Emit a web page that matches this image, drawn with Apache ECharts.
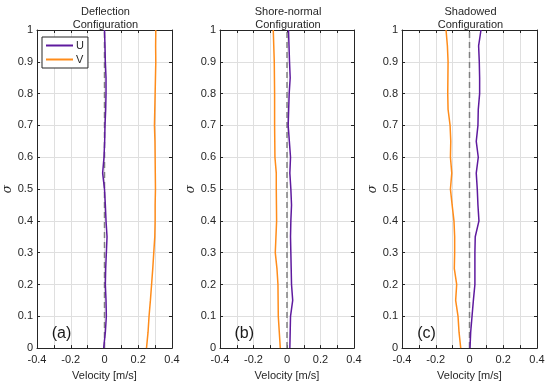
<!DOCTYPE html>
<html>
<head>
<meta charset="utf-8">
<script src="https://cdn.jsdelivr.net/npm/echarts@6/dist/echarts.min.js"></script>
<style>html,body{margin:0;padding:0;background:#fff;}#c{width:550px;height:386px;}</style>
</head>
<body>
<div id="c"></div>
<script>
const sigma = [1, 0.95, 0.9, 0.85, 0.8, 0.75, 0.7, 0.65, 0.6, 0.55, 0.5, 0.45, 0.4, 0.35, 0.3, 0.25, 0.2, 0.15, 0.1, 0.05, 0];
const titles = ['Deflection\nConfiguration', 'Shore-normal\nConfiguration', 'Shadowed\nConfiguration'];
const panelLabels = ['(a)', '(b)', '(c)'];
const uDeflection = [0, 0.003, 0.005, 0.009, 0.009, 0.007, 0.003, 0.001, -0.003, -0.011, 0, 0.005, 0.009, 0.015, 0.011, 0.007, 0.005, 0.009, 0.011, 0.005, -0.005];
const vDeflection = [0.304, 0.303, 0.304, 0.302, 0.300, 0.298, 0.296, 0.299, 0.300, 0.301, 0.302, 0.300, 0.300, 0.298, 0.292, 0.286, 0.279, 0.272, 0.264, 0.258, 0.249];
const uShoreNormal = [0.009, 0.012, 0.015, 0.019, 0.013, 0.010, 0.007, 0.014, 0.021, 0.017, 0.023, 0.027, 0.023, 0.021, 0.023, 0.025, 0.027, 0.034, 0.021, 0.019, 0.017];
const vShoreNormal = [-0.082, -0.079, -0.076, -0.075, -0.074, -0.074, -0.074, -0.073, -0.072, -0.064, -0.064, -0.063, -0.062, -0.066, -0.070, -0.060, -0.054, -0.053, -0.052, -0.046, -0.040];
const uShadowed = [0.068, 0.054, 0.058, 0.060, 0.060, 0.052, 0.050, 0.040, 0.052, 0.040, 0.046, 0.050, 0.056, 0.034, 0.032, 0.032, 0.032, 0.023, 0.015, 0.007, 0.003];
const vShadowed = [-0.139, -0.131, -0.127, -0.128, -0.129, -0.127, -0.115, -0.111, -0.113, -0.105, -0.113, -0.103, -0.092, -0.088, -0.088, -0.090, -0.076, -0.082, -0.068, -0.062, -0.052];
const zeroLine = [0, 0];
const zeroLineSigma = [0, 1];
const xTicks = [-0.4, -0.2, 0, 0.2, 0.4];

const uData = [uDeflection, uShoreNormal, uShadowed];
const vData = [vDeflection, vShoreNormal, vShadowed];

const FONT = "'Liberation Sans', Arial, Helvetica, sans-serif";
const TXT = '#262626';
const UCOL = '#5E1A9E';
const VCOL = '#FF8C1A';
const panelsLeft = [37, 220, 402];
const panelW = [135, 134, 135];
const TOP = 30, H = 321;

const grids = [], xAxes = [], yAxes = [], series = [], titleArr = [];
for (let i = 0; i < 3; i++) {
  grids.push({left: panelsLeft[i], top: TOP, width: panelW[i], height: H, containLabel: false});
  titleArr.push({
    text: titles[i], left: panelsLeft[i] + panelW[i] / 2 - 4, top: 0, textAlign: 'center',
    textStyle: {fontFamily: FONT, fontSize: 11, fontWeight: 'normal', color: TXT, lineHeight: 13}
  });
  const common = {type: 'value', gridIndex: i, min: -0.4, max: 0.4, interval: 0.1};
  xAxes.push(Object.assign({}, common, {
    position: 'bottom',
    name: 'Velocity [m/s]', nameLocation: 'middle', nameGap: 19,
    nameTextStyle: {fontFamily: FONT, fontSize: 11, color: TXT},
    axisLine: {show: true, onZero: false, lineStyle: {color: TXT, width: 1}},
    axisTick: {show: true, inside: true, length: 3, lineStyle: {color: TXT}},
    axisLabel: {fontFamily: FONT, fontSize: 11, color: TXT, margin: 6,
      formatter: v => { const k = Math.round(v * 10); return (k % 2 === 0) ? xTicks.find(t => Math.round(t * 10) === k).toString() : ''; }},
    splitLine: {show: true, lineStyle: {color: '#DFDFDF', width: 1}}
  }));
  xAxes.push(Object.assign({}, common, {
    position: 'top',
    axisLine: {show: true, onZero: false, lineStyle: {color: TXT, width: 1}},
    axisTick: {show: true, inside: true, length: 3, lineStyle: {color: TXT}},
    axisLabel: {show: false}, splitLine: {show: false}
  }));
  const ycommon = {type: 'value', gridIndex: i, min: 0, max: 1, interval: 0.1};
  yAxes.push(Object.assign({}, ycommon, {
    position: 'left',
    name: 'σ', nameLocation: 'middle', nameGap: 21,
    nameTextStyle: {fontFamily: "'DejaVu Serif', serif", fontSize: 12, fontStyle: 'italic', color: TXT},
    axisLine: {show: true, onZero: false, lineStyle: {color: TXT, width: 1}},
    axisTick: {show: true, inside: true, length: 3, lineStyle: {color: TXT}},
    axisLabel: {fontFamily: FONT, fontSize: 11, color: TXT, margin: 4, showMinLabel: true, showMaxLabel: true},
    splitLine: {show: true, lineStyle: {color: '#DFDFDF', width: 1}}
  }));
  yAxes.push(Object.assign({}, ycommon, {
    position: 'right',
    axisLine: {show: true, onZero: false, lineStyle: {color: TXT, width: 1}},
    axisTick: {show: true, inside: true, length: 3, lineStyle: {color: TXT}},
    axisLabel: {show: false}, splitLine: {show: false}
  }));
  series.push({
    type: 'line', xAxisIndex: 2 * i, yAxisIndex: 2 * i, silent: true, symbol: 'none',
    data: zeroLine.map((x, k) => [x, zeroLineSigma[k]]),
    lineStyle: {color: '#808080', width: 1.5, type: [6, 4]}, z: 2
  });
  series.push({
    name: 'U', type: 'line', xAxisIndex: 2 * i, yAxisIndex: 2 * i, symbol: 'none', silent: true,
    data: uData[i].map((x, k) => [x, sigma[k]]),
    lineStyle: {color: UCOL, width: 1.5}, itemStyle: {color: UCOL}, z: 3
  });
  series.push({
    name: 'V', type: 'line', xAxisIndex: 2 * i, yAxisIndex: 2 * i, symbol: 'none', silent: true,
    data: vData[i].map((x, k) => [x, sigma[k]]),
    lineStyle: {color: VCOL, width: 1.5}, itemStyle: {color: VCOL}, z: 3
  });
  series.push({
    type: 'scatter', xAxisIndex: 2 * i, yAxisIndex: 2 * i, silent: true, symbolSize: 0,
    data: [[-0.255, 0.046]],
    label: {show: true, position: 'inside', formatter: panelLabels[i], fontFamily: FONT, fontSize: 16, color: '#1a1a1a', opacity: 1}
  });
}

const chart = echarts.init(document.getElementById('c'), null, {renderer: 'canvas'});
chart.setOption({
  animation: false,
  backgroundColor: '#fff',
  title: titleArr,
  grid: grids,
  xAxis: xAxes,
  yAxis: yAxes,
  legend: {
    data: [{name: 'U', icon: 'rect'}, {name: 'V', icon: 'rect'}],
    orient: 'vertical', left: 42, top: 37,
    borderColor: TXT, borderWidth: 1, padding: [2, 4, 2, 4], itemGap: 1,
    itemWidth: 27, itemHeight: 2, selectedMode: false,
    textStyle: {fontFamily: FONT, fontSize: 11, color: TXT, padding: [0, 0, 0, -2], lineHeight: 13},
    backgroundColor: '#fff'
  },
  series: series
});
</script>
</body>
</html>
